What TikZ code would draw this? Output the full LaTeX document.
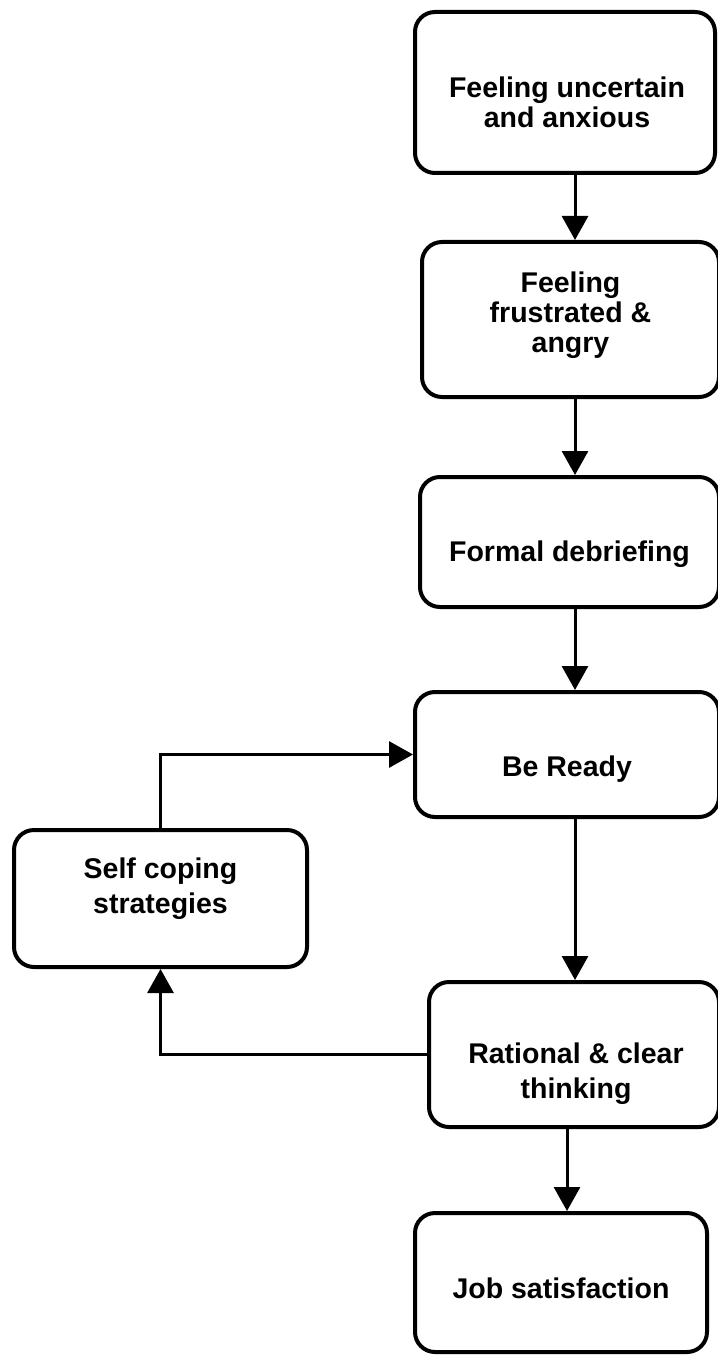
\documentclass[tikz,border=0pt]{standalone}
\usepackage{fontspec}
\setmainfont{Liberation Sans}
\usetikzlibrary{arrows.meta}

\begin{document}
\begin{tikzpicture}[x=1pt,y=-1pt]
	
	% 定义样式
	\tikzset{
		box/.style={draw, line width=4pt, rounded corners=20pt, inner sep=0pt},
		txt/.style={align=center, inner sep=0pt, font=\bfseries\fontsize{28.5}{30}\selectfont},
		widetxt/.style={txt, font=\bfseries\fontsize{28.5}{35}\selectfont},
		arr/.style={line width=3pt, -{Triangle[length=24pt,width=26pt]}}
	}
	
	% 画布大小
	\useasboundingbox (0,0) rectangle (717,1356);
	
	% 箭头所在的竖线位置
	\coordinate (ax) at (575,0); % 右列主箭头
	\coordinate (bx) at (567,0); % 最后一个箭头
	
	% 绘制方框
	\node[box, minimum width=300pt, minimum height=161pt] (anxious) at (565,92.5) {}; % 第一步
	\node[box, minimum width=297pt, minimum height=155pt] (angry) at (570.5,319.5) {}; % 第二步
	\node[box, minimum width=299pt, minimum height=130pt] (debrief) at (569.5,542) {}; % 第三步
	\node[box, minimum width=304pt, minimum height=125pt] (ready) at (567,754.5) {}; % 第四步
	\node[box, minimum width=293pt, minimum height=137pt] (cope) at (160.5,898.5) {}; % 左侧方框
	\node[box, minimum width=290pt, minimum height=145pt] (think) at (574,1054.5) {}; % 第五步
	\node[box, minimum width=292pt, minimum height=139pt] (job) at (561,1282.5) {}; % 最后一步
	
	% 方框中的文字
	\node[txt] (anxioustext) at ([xshift=2pt,yshift=-10pt]anxious.center) {Feeling uncertain\\and anxious};
	\node[txt] (angrytext) at ([yshift=4pt]angry.center) {Feeling\\frustrated \&\\angry};
	\node[txt] (debrieftext) at ([yshift=-12pt]debrief.center) {Formal debriefing};
	\node[txt] (readytext) at ([yshift=-15pt]ready.center) {Be Ready};
	\node[widetxt] (copetext) at ([yshift=10pt]cope.center) {Self coping\\strategies};
	\node[widetxt] (thinktext) at ([xshift=2pt,yshift=-19.5pt]think.center) {Rational \& clear\\thinking};
	\node[txt] (jobtext) at ([yshift=-6pt]job.center) {Job satisfaction};
	
	% 绘制竖向箭头
	\draw[arr] (anxious.south -| ax) -- (angry.north -| ax); % 1 到 2
	\draw[arr] (angry.south -| ax) -- (debrief.north -| ax); % 2 到 3
	\draw[arr] (debrief.south -| ax) -- (ready.north -| ax); % 3 到 4
	\draw[arr] (ready.south -| ax) -- (think.north -| ax); % 4 到 5
	\draw[arr] (think.south -| bx) -- (job.north -| bx); % 5 到 6
	
	% 绘制反馈回路
	\draw[arr] (think.west) -| (cope.south); % 思考回到自我调节
	\draw[arr] (cope.north) |- (ready.west); % 自我调节回到准备
	
\end{tikzpicture}
\end{document}
